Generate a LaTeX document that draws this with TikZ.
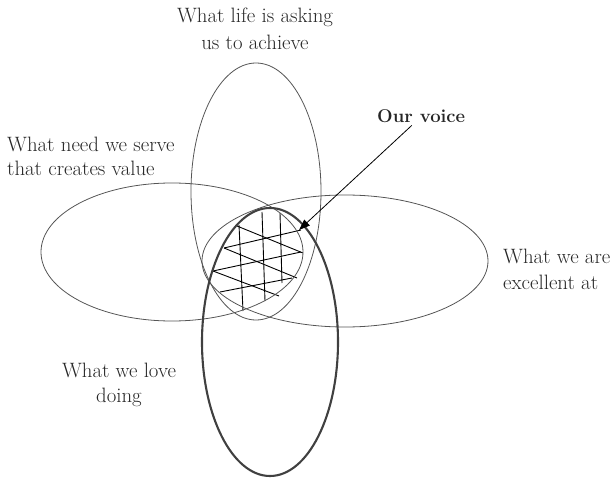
\documentclass[tikz,border=0pt]{standalone}
\usepackage{fontspec}
\usetikzlibrary{shapes.geometric,arrows.meta}
\definecolor{ink}{HTML}{262626}
\definecolor{thinline}{HTML}{555555}
\definecolor{boldline}{HTML}{404040}
\begin{document}
\begin{tikzpicture}[x=1pt,y=-1pt,
  lbl/.style={font=\fontsize{20.8}{25}\selectfont, text=ink, inner sep=0pt},
  oval/.style={ellipse, draw=thinline, line width=0.8pt, inner sep=0pt, outer sep=0pt},
  boldoval/.style={ellipse, draw=boldline, line width=2.1pt, inner sep=0pt, outer sep=0pt},
  hatch/.style={draw=black, line width=0.9pt},
  pointer/.style={draw=black, line width=0.8pt, -{Triangle[length=11pt,width=8pt]}}]
\useasboundingbox (0,0) rectangle (610,478);
% hatching of the common area
\draw[hatch] (239,225) -- (243,311);
\draw[hatch] (262,212) -- (265,301);
\draw[hatch] (280,213) -- (282,283);
\draw[hatch] (224,248) -- (301,230);
\draw[hatch] (213,271) -- (301,252);
\draw[hatch] (220,292) -- (292,278);
\draw[hatch] (237,226) -- (303,253);
\draw[hatch] (224,248) -- (297,278);
\draw[hatch] (213,271) -- (279,296);
% ellipses
\node[oval, minimum width=130pt, minimum height=257pt] (life) at (256,191.5) {};
\node[oval, minimum width=262pt, minimum height=138pt] (need) at (172,252) {};
\node[oval, minimum width=286pt, minimum height=132pt] (excel) at (345,261) {};
\node[boldoval, minimum width=136pt, minimum height=268pt] (love) at (270,342) {};
% labels (base anchor = baseline of the last line)
\node[lbl, align=center, anchor=base, font=\fontsize{20.8}{27}\selectfont] (lifelbl) at (255,50) {What life is asking\\us to achieve};
\node[lbl, align=left, anchor=base west, font=\fontsize{20.8}{24}\selectfont] (needlbl) at (7,176) {What need we serve\\that creates value};
\node[lbl, align=left, anchor=base west] (excellbl) at (503,289) {What we are\\excellent at};
\node[lbl, align=center, anchor=base] (lovelbl) at (119,402) {What we love\\doing};
\node[lbl, anchor=base west, font=\fontsize{18.5}{22}\selectfont\bfseries, inner sep=2pt] (voice) at (375,123) {Our voice};
\coordinate (tip) at (299,230);
\draw[pointer] (voice) -- (tip);
\end{tikzpicture}
\end{document}
